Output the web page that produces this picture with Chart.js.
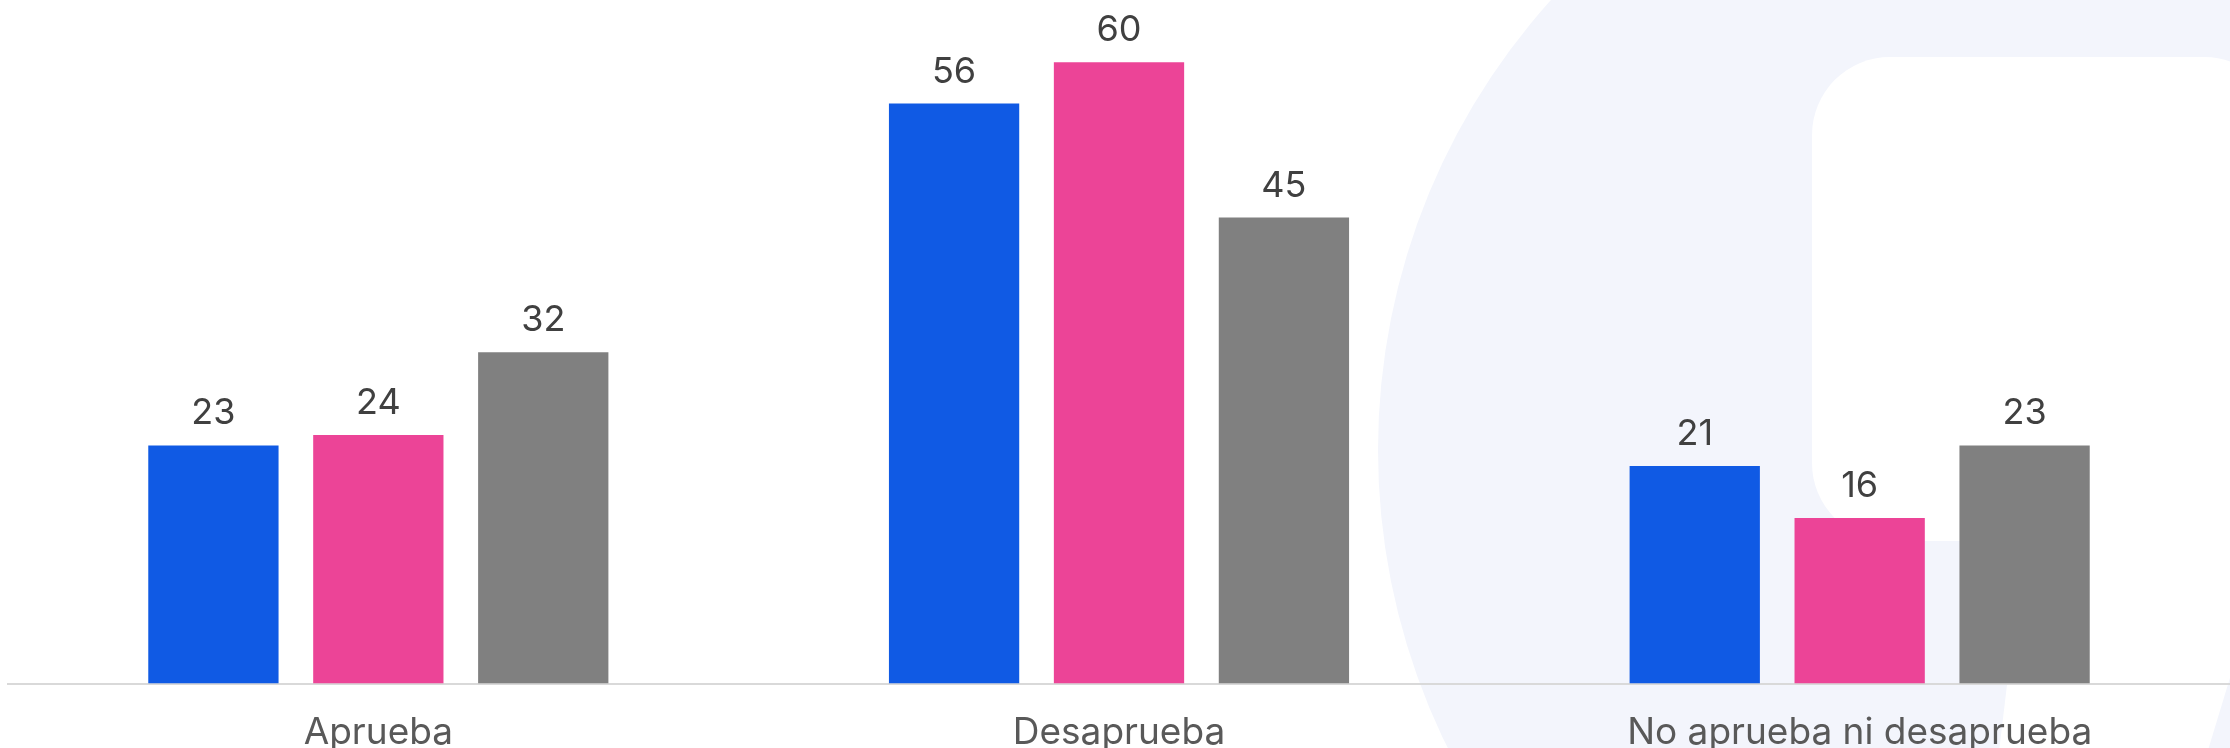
<!DOCTYPE html>
<html>
<head>
<meta charset="utf-8">
<script src="https://cdn.jsdelivr.net/npm/chart.js@4/dist/chart.umd.min.js"></script>
<style>
    body { margin: 0; background: #fff; overflow: hidden; }
    /* a bit taller than the window so the axis band fits like the original */
    #wrap { width: 2230px; height: 774px; position: relative; }
</style>
</head>
<body>
<div id="wrap"><canvas id="chart-area"></canvas></div>
<script>
// chart data
var categories = ['Aprueba', 'Desaprueba', 'No aprueba ni desaprueba'];
var serieA = [23, 56, 21];
var serieB = [24, 60, 16];
var serieC = [32, 45, 23];

var colors = {
    blue: '#105AE4',
    pink: '#EC4497',
    grey: '#808080'
};

// faint logo behind the bars
var watermark = {
    id: 'watermark',
    beforeDraw: function (chart) {
        var ctx = chart.ctx;
        ctx.save();
        ctx.fillStyle = '#ffffff';
        ctx.fillRect(0, 0, chart.width, chart.height);
        ctx.fillStyle = '#F3F5FC';
        ctx.beginPath();
        ctx.arc(2050, 450, 672, 0, Math.PI * 2);
        ctx.fill();
        ctx.fillStyle = '#ffffff';
        ctx.beginPath();
        ctx.roundRect(1812, 57, 470, 484, 78);
        ctx.fill();
        ctx.beginPath();
        ctx.moveTo(2034, 460);
        ctx.lineTo(2240, 460);
        ctx.lineTo(2240, 645);
        ctx.lineTo(2205, 760);
        ctx.lineTo(1998, 760);
        ctx.closePath();
        ctx.fill();
        ctx.restore();
    }
};

// value above each bar
var valueLabels = {
    id: 'valueLabels',
    afterDatasetsDraw: function (chart) {
        var ctx = chart.ctx;
        ctx.save();
        ctx.font = '400 36px Inter';
        ctx.fillStyle = '#404040';
        ctx.textAlign = 'center';
        ctx.textBaseline = 'alphabetic';
        chart.data.datasets.forEach(function (ds, i) {
            var meta = chart.getDatasetMeta(i);
            meta.data.forEach(function (bar, j) {
                ctx.fillText(ds.data[j], bar.x, bar.y - 21);
            });
        });
        ctx.restore();
    }
};

window.onload = function () {
    var ctx = document.getElementById('chart-area').getContext('2d');
    var config = {
        type: 'bar',
        data: {
            labels: categories,
            datasets: [
                { label: 'A', data: serieA, backgroundColor: colors.blue },
                { label: 'B', data: serieB, backgroundColor: colors.pink },
                { label: 'C', data: serieC, backgroundColor: colors.grey }
            ]
        },
        options: {
            responsive: true,
            maintainAspectRatio: false,
            animation: false,
            layout: { padding: { left: 8, right: 0, top: 0, bottom: 0 } },
            datasets: {
                bar: { barPercentage: 0.79, categoryPercentage: 0.668 }
            },
            plugins: {
                legend: { display: false },
                tooltip: { enabled: false }
            },
            scales: {
                x: {
                    grid: { display: false },
                    border: { display: true, color: '#D9D9D9', width: 2 },
                    ticks: {
                        color: '#595959',
                        font: { family: 'Inter', size: 37 },
                        padding: 19,
                        maxRotation: 0
                    }
                },
                y: {
                    display: false,
                    min: 0,
                    max: 66
                }
            }
        },
        plugins: [watermark, valueLabels]
    };
    window.myBar = new Chart(ctx, config);
};
</script>
</body>
</html>
